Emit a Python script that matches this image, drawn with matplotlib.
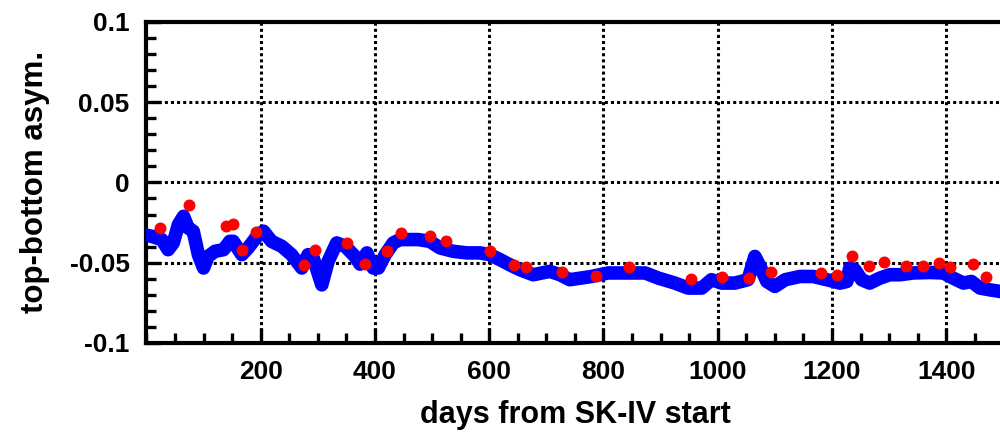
import matplotlib
matplotlib.use("Agg")
import matplotlib.pyplot as plt
from matplotlib.ticker import MultipleLocator

# blue curve (days, asymmetry)
curve_days = [2, 9, 27, 38, 47, 56, 65, 73, 82, 91, 100, 108, 120, 135, 146,
              152, 167, 178, 196, 205, 219, 237, 254, 272, 283, 292, 307, 318,
              333, 348, 365, 374, 386, 397, 406, 418, 432, 444, 476, 496, 514,
              537, 561, 584, 601, 619, 636, 654, 677, 706, 724, 741, 779, 808,
              838, 873, 896, 925, 948, 972, 989, 1007, 1030, 1053, 1065, 1074,
              1086, 1100, 1118, 1144, 1167, 1191, 1214, 1226, 1231, 1240, 1252,
              1266, 1284, 1301, 1319, 1342, 1371, 1395, 1412, 1430, 1444, 1459,
              1476, 1494, 1510]
curve_asym = [-0.0330, -0.0336, -0.0356, -0.0419, -0.0377, -0.0263, -0.0211,
              -0.0283, -0.0304, -0.0450, -0.0533, -0.0461, -0.0429, -0.0419,
              -0.0367, -0.0367, -0.0450, -0.0408, -0.0325, -0.0304, -0.0367,
              -0.0398, -0.0450, -0.0533, -0.0450, -0.0471, -0.0638, -0.0492,
              -0.0377, -0.0398, -0.0461, -0.0509, -0.0439, -0.0533, -0.0533,
              -0.0450, -0.0377, -0.0356, -0.0356, -0.0367, -0.0408, -0.0429,
              -0.0439, -0.0439, -0.0450, -0.0481, -0.0513, -0.0544, -0.0575,
              -0.0554, -0.0575, -0.0606, -0.0586, -0.0564, -0.0564, -0.0564,
              -0.0596, -0.0627, -0.0658, -0.0658, -0.0606, -0.0627, -0.0627,
              -0.0606, -0.0461, -0.0523, -0.0617, -0.0648, -0.0606, -0.0586,
              -0.0586, -0.0606, -0.0627, -0.0617, -0.0533, -0.0544, -0.0606,
              -0.0627, -0.0596, -0.0575, -0.0575, -0.0564, -0.0561, -0.0564,
              -0.0596, -0.0627, -0.0617, -0.0658, -0.0669, -0.0679, -0.0690]

# red points
dot_days = [24, 74, 139, 151, 168, 192, 276, 295, 351, 383, 421, 446, 496,
            524, 602, 643, 665, 727, 787, 845, 953, 1008, 1054, 1094, 1180,
            1208, 1235, 1264, 1291, 1329, 1360, 1388, 1406, 1446, 1469]
dot_asym = [-0.0283, -0.0142, -0.0273, -0.0258, -0.0419, -0.0310, -0.0513,
            -0.0423, -0.0377, -0.0508, -0.0427, -0.0317, -0.0336, -0.0364,
            -0.0430, -0.0513, -0.0527, -0.0556, -0.0585, -0.0529, -0.0602,
            -0.0587, -0.0598, -0.0561, -0.0564, -0.0579, -0.0461, -0.0523,
            -0.0498, -0.0519, -0.0519, -0.0504, -0.0527, -0.0508, -0.0592]

x_ticks = [200, 400, 600, 800, 1000, 1200, 1400]
y_ticks = [-0.1, -0.05, 0, 0.05, 0.1]
y_labels = ["-0.1", "-0.05", "0", "0.05", "0.1"]

plt.rcParams["font.family"] = ["Liberation Sans", "DejaVu Sans"]
plt.rcParams["font.weight"] = "bold"

fig = plt.figure(figsize=(10, 4.38), dpi=100)
ax = fig.add_axes([0.1464, 0.217, 0.857, 0.733])

ax.plot(curve_days, curve_asym, color="#0000ff", lw=9.8,
        solid_capstyle="round", solid_joinstyle="round", zorder=3)
ax.plot(dot_days, dot_asym, "o", color="#ff0000", ms=8.6, mec="none", zorder=4)

ax.set_xlim(0, 1500)
ax.set_ylim(-0.1, 0.1)
ax.set_xticks(x_ticks)
ax.set_yticks(y_ticks)
ax.set_yticklabels(y_labels)
ax.xaxis.set_minor_locator(MultipleLocator(50))
ax.yaxis.set_minor_locator(MultipleLocator(0.01))

ax.grid(True, which="major", color="black", ls=(0, (1, 1)), lw=2.2, zorder=1)
ax.tick_params(which="both", direction="in", width=2.4, top=False, right=False,
               labelsize=19, pad=12)
ax.tick_params(which="major", length=11)
ax.tick_params(which="minor", length=7)
for s in ax.spines.values():
    s.set_linewidth(3)

ax.set_xlabel("days from SK-IV start", fontsize=22, fontweight="bold", labelpad=12)
ax.set_ylabel("top-bottom asym.", fontsize=22.5, fontweight="bold", labelpad=14)

fig.savefig("out.png", dpi=100)
